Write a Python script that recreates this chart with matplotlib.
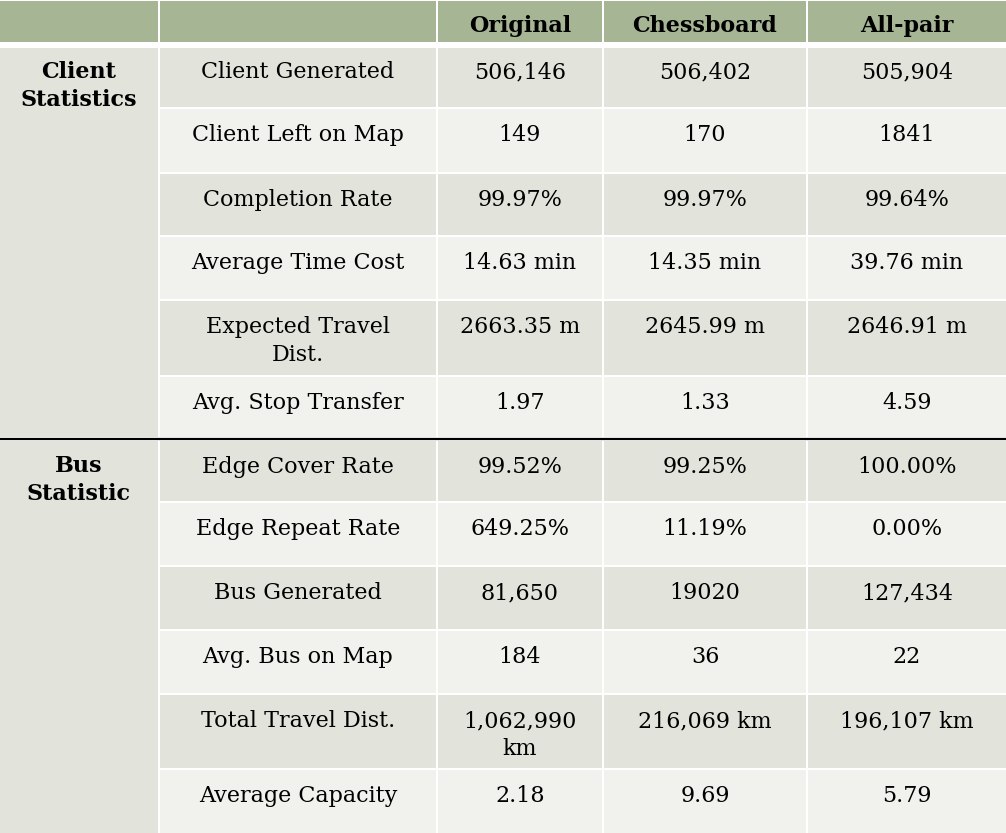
import matplotlib.pyplot as plt
from matplotlib.patches import Rectangle

# 表格内容
methods = ["Original", "Chessboard", "All-pair"]
groups = ["Client\nStatistics", "Bus\nStatistic"]
client_metrics = ["Client Generated", "Client Left on Map", "Completion Rate",
                  "Average Time Cost", "Expected Travel\nDist.", "Avg. Stop Transfer"]
bus_metrics = ["Edge Cover Rate", "Edge Repeat Rate", "Bus Generated",
               "Avg. Bus on Map", "Total Travel Dist.", "Average Capacity"]
original = ["506,146", "149", "99.97%", "14.63 min", "2663.35 m", "1.97",
            "99.52%", "649.25%", "81,650", "184", "1,062,990\nkm", "2.18"]
chessboard = ["506,402", "170", "99.97%", "14.35 min", "2645.99 m", "1.33",
              "99.25%", "11.19%", "19020", "36", "216,069 km", "9.69"]
allpair = ["505,904", "1841", "99.64%", "39.76 min", "2646.91 m", "4.59",
           "100.00%", "0.00%", "127,434", "22", "196,107 km", "5.79"]

# 版面（像素）
W, H = 1006, 833
col_x = [(0, 158), (160, 436), (438, 602), (604, 806), (808, 1006)]
row_y = [(48, 107), (109, 172), (174, 235), (237, 299), (301, 375), (377, 437),
         (441, 501), (503, 565), (567, 629), (631, 693), (695, 768), (770, 833)]
header_y = (1, 42)

GREEN = "#a6b593"
DARK = "#e2e4dc"
LIGHT = "#f1f2ee"
FONT = "DejaVu Serif"
FS = 16
LINE = 28

fig = plt.figure(figsize=(W / 100, H / 100), dpi=100)
ax = fig.add_axes([0, 0, 1, 1])
ax.set_xlim(0, W)
ax.set_ylim(H, 0)
ax.axis("off")


def cell(x0, x1, y0, y1, color):
    ax.add_patch(Rectangle((x0, y0), x1 - x0, y1 - y0, color=color, lw=0))


def label(txt, xc, top, bold=False, base=32):
    for i, line in enumerate(txt.split("\n")):
        ax.text(xc, top + base + i * LINE, line, ha="center", va="baseline",
                fontsize=FS, family=FONT, fontweight="bold" if bold else "normal",
                color="black")


# 表头
for j, (x0, x1) in enumerate(col_x):
    cell(x0, x1, header_y[0], header_y[1], GREEN)
    if j >= 2:
        label(methods[j - 2], (x0 + x1) / 2, 0, bold=True, base=32)

# 左侧分组列
cell(col_x[0][0], col_x[0][1], row_y[0][0], row_y[5][1], DARK)
cell(col_x[0][0], col_x[0][1], row_y[6][0], row_y[11][1], DARK)
label(groups[0], sum(col_x[0]) / 2, row_y[0][0], bold=True, base=30)
label(groups[1], sum(col_x[0]) / 2, row_y[6][0], bold=True, base=31)

metrics = client_metrics + bus_metrics
for i, (y0, y1) in enumerate(row_y):
    color = DARK if i % 2 == 0 else LIGHT
    vals = [metrics[i], original[i], chessboard[i], allpair[i]]
    base = 30 if i == 0 else 32
    for j in range(1, 5):
        x0, x1 = col_x[j]
        cell(x0, x1, y0, y1, color)
        label(vals[j - 1], (x0 + x1) / 2, y0, base=base)

# 分组之间的黑线
ax.plot([0, W], [439, 439], color="black", lw=1.6, solid_capstyle="butt")

fig.savefig("out.png", dpi=100)
